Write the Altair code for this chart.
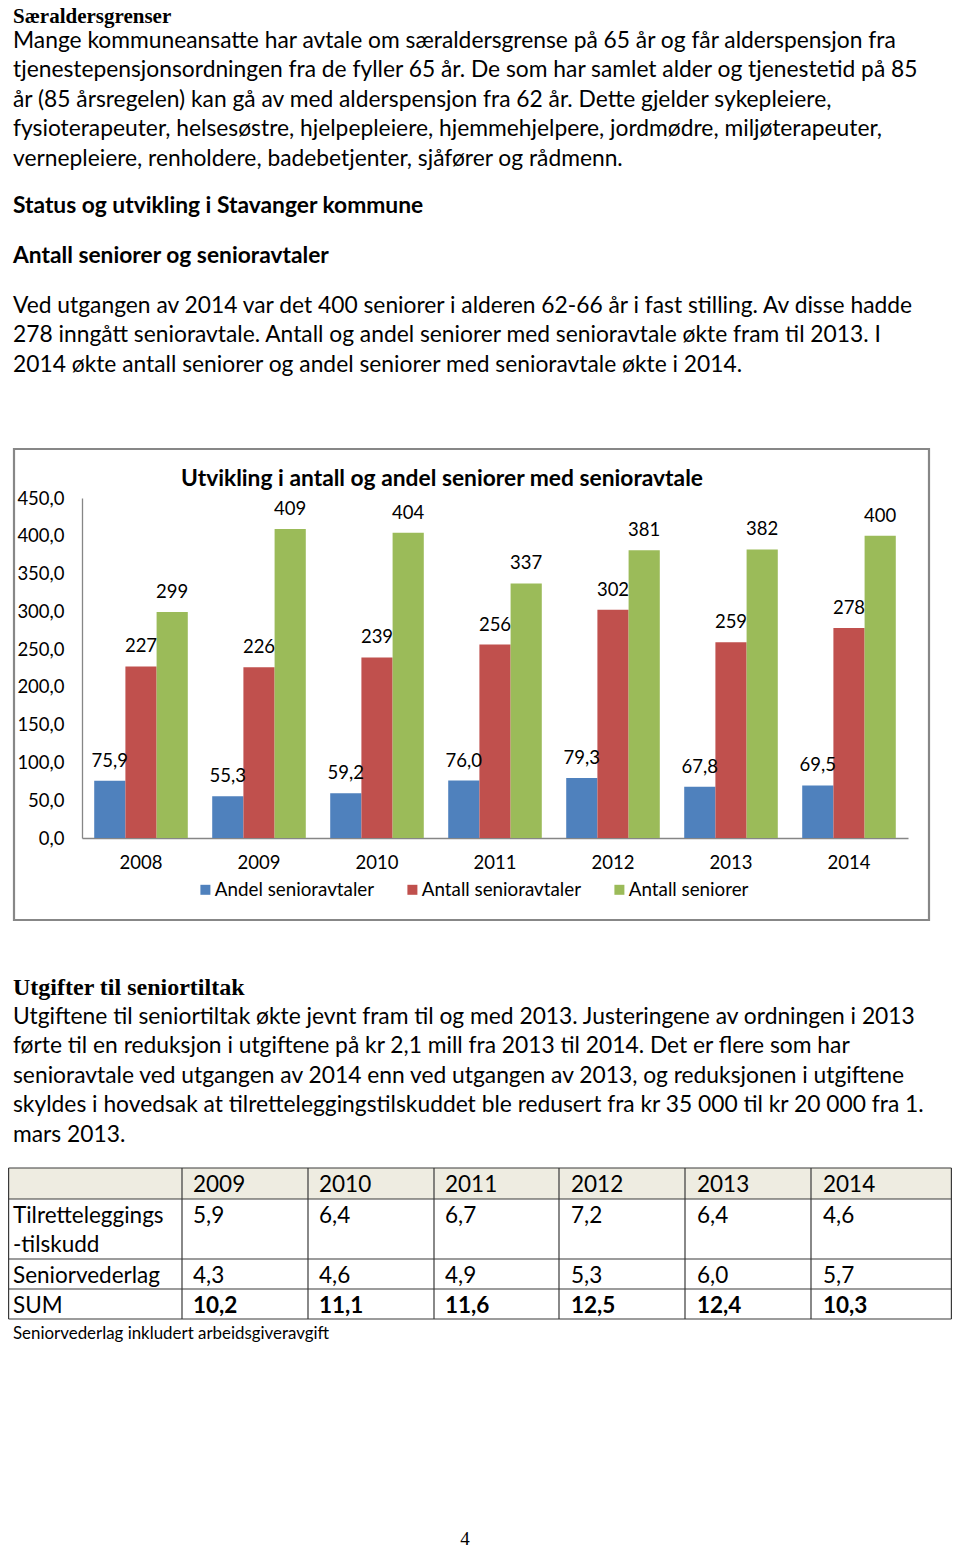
import altair as alt
import pandas as pd

# ---------------- data ----------------
years = ["2008", "2009", "2010", "2011", "2012", "2013", "2014"]
andel_senioravtaler = [75.9, 55.3, 59.2, 76.0, 79.3, 67.8, 69.5]
antall_senioravtaler = [227, 226, 239, 256, 302, 259, 278]
antall_seniorer = [299, 409, 404, 337, 381, 382, 400]
series_names = ["Andel senioravtaler", "Antall senioravtaler", "Antall seniorer"]
series_colors = ["#4F81BD", "#C0504D", "#9BBB59"]
y_ticks = [0, 50, 100, 150, 200, 250, 300, 350, 400, 450]

table_years = ["2009", "2010", "2011", "2012", "2013", "2014"]
tilretteleggingstilskudd = [5.9, 6.4, 6.7, 7.2, 6.4, 4.6]
seniorvederlag = [4.3, 4.6, 4.9, 5.3, 6.0, 5.7]
sum_values = [10.2, 11.1, 11.6, 12.5, 12.4, 10.3]
row_labels = ["Tilretteleggings\n-tilskudd", "Seniorvederlag", "SUM"]

heading1 = "Særaldersgrenser"
para1 = [
    "Mange kommuneansatte har avtale om særaldersgrense på 65 år og får alderspensjon fra",
    "tjenestepensjonsordningen fra de fyller 65 år. De som har samlet alder og tjenestetid på 85",
    "år (85 årsregelen) kan gå av med alderspensjon fra 62 år. Dette gjelder sykepleiere,",
    "fysioterapeuter, helsesøstre, hjelpepleiere, hjemmehjelpere, jordmødre, miljøterapeuter,",
    "vernepleiere, renholdere, badebetjenter, sjåfører og rådmenn.",
]
subhead1 = "Status og utvikling i Stavanger kommune"
subhead2 = "Antall seniorer og senioravtaler"
para2 = [
    "Ved utgangen av 2014 var det 400 seniorer i alderen 62-66 år i fast stilling. Av disse hadde",
    "278 inngått senioravtale. Antall og andel seniorer med senioravtale økte fram til 2013. I",
    "2014 økte antall seniorer og andel seniorer med senioravtale økte i 2014.",
]
chart_title = "Utvikling i antall og andel seniorer med senioravtale"
heading2 = "Utgifter til seniortiltak"
para3 = [
    "Utgiftene til seniortiltak økte jevnt fram til og med 2013. Justeringene av ordningen i 2013",
    "førte til en reduksjon i utgiftene på kr 2,1 mill fra 2013 til 2014. Det er flere som har",
    "senioravtale ved utgangen av 2014 enn ved utgangen av 2013, og reduksjonen i utgiftene",
    "skyldes i hovedsak at tilretteleggingstilskuddet ble redusert fra kr 35 000 til kr 20 000 fra 1.",
    "mars 2013.",
]
footnote = "Seniorvederlag inkludert arbeidsgiveravgift"
page_number = "4"

# ---------------- helpers ----------------
W, H = 944, 1540
SANS = "Lato"
SERIF = "Liberation Serif"
BODY = 22.8
TABLE = 22.5
LH = 29.4
T_LEFT, T_RIGHT = 8.6, 951.4


def px(v):
    return v - 8


def comma(v, d=1):
    return f"{v:.{d}f}".replace(".", ",")


ONE = alt.Data(values=[{}])


def text_at(x, y, txt, size=BODY, font=SANS, weight="normal", align="left", color="#000", lh=LH):
    return alt.Chart(ONE).mark_text(
        font=font, fontSize=size, fontWeight=weight, align=align, baseline="alphabetic",
        lineBreak="\n", lineHeight=lh, color=color,
    ).encode(x=alt.value(px(x)), y=alt.value(px(y)), text=alt.value(txt))


def hrule(y, x1, x2, color="#3a3a3a", w=1.2):
    return alt.Chart(ONE).mark_rule(color=color, strokeWidth=w).encode(
        x=alt.value(px(x1)), x2=alt.value(px(x2)), y=alt.value(px(y)))


def vrule(x, y1, y2, color="#3a3a3a", w=1.2):
    return alt.Chart(ONE).mark_rule(color=color, strokeWidth=w).encode(
        x=alt.value(px(x)), y=alt.value(px(y1)), y2=alt.value(px(y2)))


# ---------------- bar chart ----------------
rows = []
for i, yr in enumerate(years):
    for s, vals, d in zip(series_names,
                          [andel_senioravtaler, antall_senioravtaler, antall_seniorer],
                          [1, 0, 0]):
        rows.append({"year": yr, "series": s, "value": vals[i], "label": comma(vals[i], d)})
bars_df = pd.DataFrame(rows)

x_enc = alt.X(
    "year:N",
    scale=alt.Scale(domain=years, range=[px(82), px(908)], paddingInner=0.207, paddingOuter=0.1035),
    axis=alt.Axis(orient="bottom", offset=-(H - px(838)), title=None, labelAngle=0, ticks=False,
                  domainColor="#868686", domainWidth=1.3, labelFont=SANS, labelFontSize=18.5,
                  labelColor="#000", labelPadding=15, grid=False),
)
y_enc = alt.Y(
    "value:Q",
    scale=alt.Scale(domain=[0, 450], range=[px(838), px(498)], nice=False, zero=True),
    axis=alt.Axis(orient="left", offset=-px(82), title=None, values=y_ticks, ticks=False,
                  labelExpr="replace(format(datum.value, '.1f'), '.', ',')",
                  domainColor="#868686", domainWidth=1.3, labelFont=SANS, labelFontSize=18.5,
                  labelColor="#000", labelPadding=18, grid=False),
)
xo_enc = alt.XOffset("series:N", scale=alt.Scale(domain=series_names, paddingInner=0, paddingOuter=0))

frame = alt.Chart(ONE).mark_rect(fillOpacity=0, stroke="#878787", strokeWidth=2.2).encode(
    x=alt.value(px(14)), x2=alt.value(px(929)), y=alt.value(px(449)), y2=alt.value(px(920)))

bars = alt.Chart(bars_df).mark_bar().encode(
    x=x_enc, xOffset=xo_enc, y=y_enc,
    color=alt.Color("series:N", scale=alt.Scale(domain=series_names, range=series_colors),
                    legend=alt.Legend(orient="none", legendX=px(196), legendY=px(880),
                                      direction="horizontal", title=None, symbolType="square",
                                      symbolSize=100, symbolStrokeWidth=0, labelFont=SANS,
                                      labelFontSize=18.8, labelColor="#000", labelOffset=0,
                                      columnPadding=28)),
)
labels = alt.Chart(bars_df).mark_text(font=SANS, fontSize=18.5, baseline="middle", dy=-20,
                                      color="#000").encode(
    x=x_enc, xOffset=xo_enc, y=y_enc, text="label:N")

title_mark = alt.Chart(ONE).mark_text(font=SANS, fontSize=22.8, fontWeight="bold", align="center",
                                      baseline="alphabetic", color="#000").encode(
    x=alt.value(px(442)), y=alt.value(px(486)), text=alt.value(chart_title))

bar_group = alt.layer(frame, bars, labels, title_mark)

# ---------------- table ----------------
tx = alt.X("year:N",
           scale=alt.Scale(type="point", domain=table_years, range=[px(182), px(812)],
                           padding=0), axis=None)
tdf = pd.DataFrame({
    "year": table_years,
    "t": [comma(v) for v in tilretteleggingstilskudd],
    "s": [comma(v) for v in seniorvederlag],
    "sum": [comma(v) for v in sum_values],
})

header_bg = alt.Chart(ONE).mark_rect(fill="#EEECE1").encode(
    x=alt.value(px(T_LEFT)), x2=alt.value(px(T_RIGHT)), y=alt.value(px(1168)), y2=alt.value(px(1199)))


def table_row(field, y, weight="normal"):
    return alt.Chart(tdf).mark_text(font=SANS, fontSize=TABLE, fontWeight=weight, align="left",
                                    baseline="alphabetic", dx=11, color="#000").encode(
        x=tx, y=alt.value(px(y)), text=f"{field}:N")


table_layers = [header_bg]
for yy in [1168, 1199, 1259, 1289, 1319]:
    table_layers.append(hrule(yy, T_LEFT, T_RIGHT))
for xx in [T_LEFT, 182, 308, 434, 559, 685, 811, T_RIGHT]:
    table_layers.append(vrule(xx, 1168, 1319))
table_layers += [
    table_row("year", 1192),
    table_row("t", 1223),
    table_row("s", 1283),
    table_row("sum", 1313, "bold"),
    text_at(13, 1223, row_labels[0], size=TABLE, lh=29),
    text_at(13, 1283, row_labels[1], size=TABLE),
    text_at(13, 1313, row_labels[2], size=TABLE),
    text_at(13, 1339, footnote, size=16.9),
]
table_group = alt.layer(*table_layers)

# ---------------- page text ----------------
text_group = alt.layer(
    text_at(13, 23, heading1, size=21, font=SERIF, weight="bold"),
    text_at(13, 48, "\n".join(para1)),
    text_at(13, 213, subhead1, weight="bold"),
    text_at(13, 263, subhead2, weight="bold"),
    text_at(13, 313, "\n".join(para2)),
    text_at(13, 995, heading2, size=24, font=SERIF, weight="bold"),
    text_at(13, 1024, "\n".join(para3)),
    text_at(465, 1545, page_number, size=19, font=SERIF, align="center"),
)

chart = alt.layer(text_group, bar_group, table_group).resolve_scale(
    x="independent", y="independent", color="independent"
).properties(
    width=W, height=H, padding=0, autosize=alt.AutoSizeParams(type="none"),
    background="white",
).configure_view(stroke=None)

chart.save("out.html", embed_options={"renderer": "svg", "actions": False})
